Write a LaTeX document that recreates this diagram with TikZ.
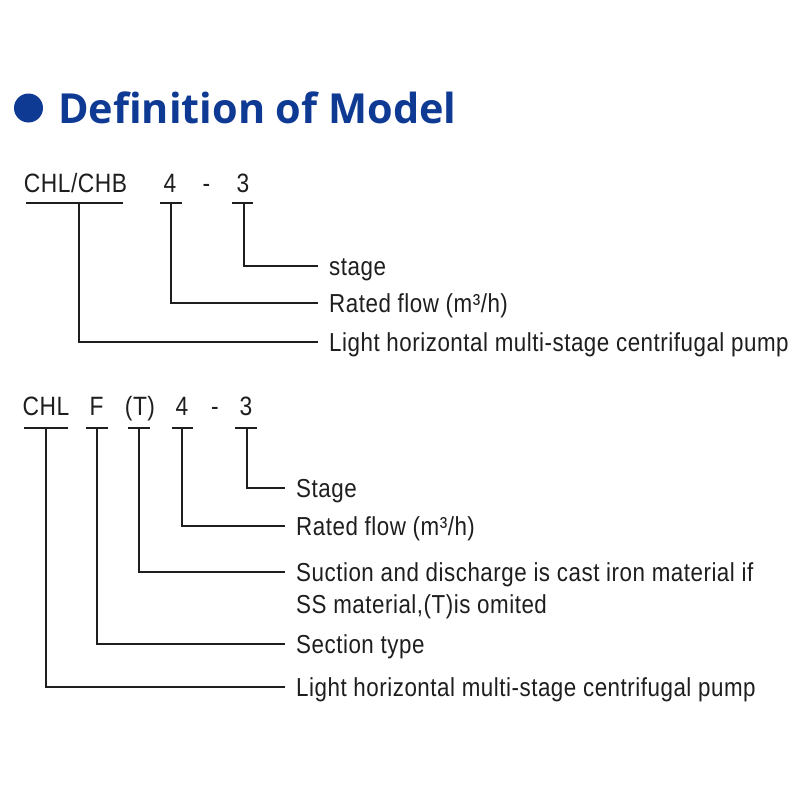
\documentclass[tikz,border=0pt]{standalone}
\usepackage{fontspec}
\setmainfont{Liberation Sans}[FakeStretch=0.86,LetterSpace=2]
\newfontfamily\titlefont{Open Sans}
\definecolor{ink}{RGB}{30,30,30}
\definecolor{titleblue}{RGB}{14,58,148}
\begin{document}
\begin{tikzpicture}[x=1pt,y=-1pt,
  code/.style={font=\fontsize{26.5}{30}\selectfont, text=ink, inner sep=0pt, anchor=base},
  lab/.style={font=\fontsize{26}{32}\selectfont, text=ink, inner sep=0pt, text height=19pt, text depth=0pt, anchor=west},
  uline/.style={line width=1.5pt, draw=ink},
  conn/.style={line width=1.5pt, draw=ink, shorten >=11pt}]
\useasboundingbox[fill=white] (0,0) rectangle (800,800);
% title
\fill[titleblue] (28.5,108) circle[radius=14.5];
\node[anchor=base west, inner sep=0pt, text=titleblue, font=\titlefont\bfseries\fontsize{41.4}{50}\selectfont] (title) at (58,123) {Definition of Model};
% block 1
\node[code] (a1) at (75.5,192) {CHL/CHB};
\node[code] (a2) at (170,192) {4};
\node[code] (a3) at (206.5,192) {-};
\node[code] (a4) at (243,192) {3};
\draw[uline] (26,203) -- (123,203);
\draw[uline] (160,203) -- (182,203);
\draw[uline] (232,203) -- (253,203);
\coordinate (d1) at (79,203);
\coordinate (d2) at (171,203);
\coordinate (d4) at (244,203);
\node[lab] (la4) at (329,266) {stage};
\node[lab] (la2) at (329,303) {Rated flow (m³/h)};
\node[lab] (la1) at (329,342) {Light horizontal multi-stage centrifugal pump};
\draw[conn] (d4) |- (la4.west);
\draw[conn] (d2) |- (la2.west);
\draw[conn] (d1) |- (la1.west);
% block 2
\node[code] (b1) at (46,415) {CHL};
\node[code] (b2) at (96.5,415) {F};
\node[code] (b3) at (140,415) {(T)};
\node[code] (b4) at (182,415) {4};
\node[code] (b5) at (215,415) {-};
\node[code] (b6) at (246,415) {3};
\draw[uline] (24,428) -- (68,428);
\draw[uline] (86,428) -- (108,428);
\draw[uline] (128,428) -- (150,428);
\draw[uline] (172,428) -- (193,428);
\draw[uline] (235,428) -- (257,428);
\coordinate (e1) at (46,428);
\coordinate (e2) at (97,428);
\coordinate (e3) at (139,428);
\coordinate (e4) at (182,428);
\coordinate (e6) at (247,428);
\node[lab] (lb6) at (296,488) {Stage};
\node[lab] (lb4) at (296,526) {Rated flow (m³/h)};
\node[lab] (lb3) at (296,572) {Suction and discharge is cast iron material if};
\node[lab] (lb3b) at (296,604) {SS material,(T)is omited};
\node[lab] (lb2) at (296,644) {Section type};
\node[lab] (lb1) at (296,687) {Light horizontal multi-stage centrifugal pump};
\draw[conn] (e6) |- (lb6.west);
\draw[conn] (e4) |- (lb4.west);
\draw[conn] (e3) |- (lb3.west);
\draw[conn] (e2) |- (lb2.west);
\draw[conn] (e1) |- (lb1.west);
\end{tikzpicture}
\end{document}
